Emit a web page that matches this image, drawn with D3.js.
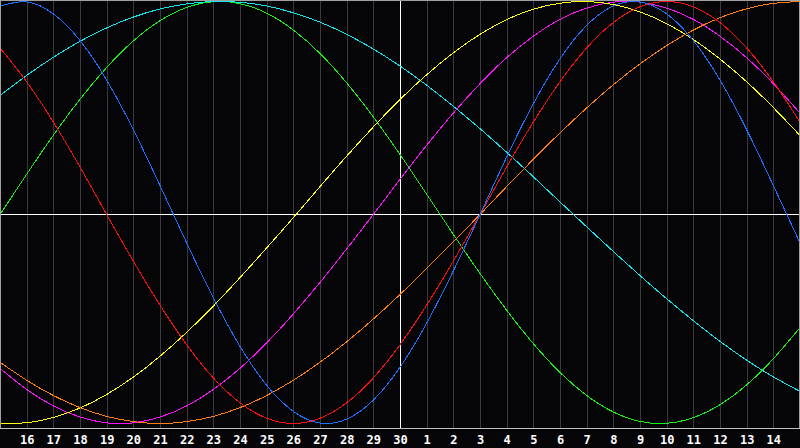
<!DOCTYPE html>
<html>
<head>
<meta charset="utf-8">
<script src="https://cdn.jsdelivr.net/npm/d3@7"></script>
<style>
  html, body { margin: 0; padding: 0; background: #050508; }
  svg { display: block; }
  .grid line { stroke: #3a3a3e; }
  .labels text { fill: #fff; font-family: "DejaVu Sans Mono", monospace; font-weight: bold; font-size: 12px; }
</style>
</head>
<body>
<script>
// day labels for each column, index 0..30 (the first and last sit on the edges and are not drawn)
var dayLabels = [15,16,17,18,19,20,21,22,23,24,25,26,27,28,29,30,1,2,3,4,5,6,7,8,9,10,11,12,13,14,15];
var labelIdx = d3.range(1, 30);
var todayIdx = 15;

// values, one per day column
var physical     = [0.979,0.998,0.942,0.817,0.631,0.398,0.136,-0.136,-0.398,-0.631,-0.817,-0.942,-0.998,-0.979,-0.888,-0.731,-0.520,-0.270,0,0.270,0.520,0.731,0.888,0.979,0.998,0.942,0.817,0.631,0.398,0.136,-0.136];
var emotional    = [0.782,0.623,0.434,0.223,0,-0.223,-0.434,-0.623,-0.782,-0.901,-0.975,-1,-0.975,-0.901,-0.782,-0.623,-0.434,-0.223,0,0.223,0.434,0.623,0.782,0.901,0.975,1,0.975,0.901,0.782,0.623,0.434];
var intellectual = [0,0.189,0.372,0.541,0.690,0.815,0.910,0.972,0.999,0.990,0.945,0.866,0.756,0.618,0.458,0.282,0.095,-0.095,-0.282,-0.458,-0.618,-0.756,-0.866,-0.945,-0.990,-0.999,-0.972,-0.910,-0.815,-0.690,-0.541];
var intuitive    = [-0.736,-0.837,-0.916,-0.969,-0.997,-0.997,-0.969,-0.916,-0.837,-0.736,-0.614,-0.476,-0.325,-0.165,0,0.165,0.325,0.476,0.614,0.736,0.837,0.916,0.969,0.997,0.997,0.969,0.916,0.837,0.736,0.614,0.476];
var aesthetic    = [-0.999,-0.996,-0.971,-0.926,-0.861,-0.778,-0.678,-0.564,-0.438,-0.302,-0.160,-0.015,0.131,0.274,0.411,0.540,0.656,0.759,0.846,0.915,0.964,0.992,1.000,0.986,0.951,0.896,0.822,0.730,0.623,0.502,0.371];
var awareness    = [-0.707,-0.793,-0.866,-0.924,-0.966,-0.991,-1,-0.991,-0.966,-0.924,-0.866,-0.793,-0.707,-0.609,-0.5,-0.383,-0.259,-0.131,0,0.131,0.259,0.383,0.5,0.609,0.707,0.793,0.866,0.924,0.966,0.991,1];
var spiritual    = [0.559,0.653,0.738,0.813,0.876,0.927,0.965,0.989,1.000,0.996,0.979,0.947,0.903,0.846,0.777,0.697,0.607,0.508,0.403,0.292,0.177,0.059,-0.059,-0.177,-0.292,-0.403,-0.508,-0.607,-0.697,-0.777,-0.846];

var seriesNames  = ["intellectual","spiritual","intuitive","aesthetic","awareness","emotional","physical"];
var seriesData   = [intellectual, spiritual, intuitive, aesthetic, awareness, emotional, physical];
var seriesColors = ["#16f016","#10e8f0","#ff10ff","#ffff10","#ff8010","#ff1010","#2070ff"];

var W = 800, H = 448, plotH = 428;

var svg = d3.select("body").append("svg")
  .attr("width", W).attr("height", H);

svg.append("rect").attr("width", W).attr("height", H).attr("fill", "#050508");

var x = d3.scaleLinear().domain([0, 30]).range([0, W]);
var y = d3.scaleLinear().domain([-1, 0, 1]).range([423.5, 214.5, 1.5]);

// vertical day grid
svg.append("g")
  .attr("class", "grid")
  .attr("transform", "translate(0," + plotH + ")")
  .call(d3.axisBottom(x).tickValues(labelIdx).tickSize(-plotH).tickFormat(""))
  .call(function(g) { g.select(".domain").remove(); })
  .selectAll("line").attr("shape-rendering", "crispEdges");

// zero line and today line
svg.append("line")
  .attr("x1", 0).attr("x2", W).attr("y1", y(0)).attr("y2", y(0))
  .attr("stroke", "#fff").attr("shape-rendering", "crispEdges");
svg.append("line")
  .attr("x1", x(todayIdx) + 0.5).attr("x2", x(todayIdx) + 0.5).attr("y1", 0).attr("y2", plotH)
  .attr("stroke", "#fff").attr("shape-rendering", "crispEdges");

// curves
var line = d3.line()
  .x(function(d, i) { return x(i); })
  .y(function(d) { return y(d); })
  .curve(d3.curveNatural);

svg.append("g").selectAll("path")
  .data(seriesData)
  .enter().append("path")
  .attr("class", function(d, i) { return seriesNames[i]; })
  .attr("d", line)
  .attr("fill", "none")
  .attr("stroke", function(d, i) { return seriesColors[i]; })
  .attr("stroke-width", 1)
  .attr("shape-rendering", "crispEdges");

// frame
var frame = svg.append("g").attr("stroke", "#a0a0a0").attr("shape-rendering", "crispEdges");
frame.append("line").attr("x1", 0.5).attr("x2", 0.5).attr("y1", 0).attr("y2", plotH);
frame.append("line").attr("x1", 0).attr("x2", W).attr("y1", 0.5).attr("y2", 0.5);
frame.append("line").attr("x1", W - 0.5).attr("x2", W - 0.5).attr("y1", 0).attr("y2", plotH);
frame.append("line").attr("x1", 0).attr("x2", W).attr("y1", plotH + 0.5).attr("y2", plotH + 0.5).attr("stroke", "#c0c0c0");

// day labels
svg.append("g")
  .attr("class", "labels")
  .attr("transform", "translate(0," + plotH + ")")
  .call(d3.axisBottom(x).tickValues(labelIdx).tickSize(0).tickPadding(0)
    .tickFormat(function(i) { return dayLabels[i]; }))
  .call(function(g) { g.select(".domain").remove(); })
  .selectAll("text")
  .attr("dy", null)
  .attr("y", 15.5)
  .attr("font-size", 12);
</script>
</body>
</html>
